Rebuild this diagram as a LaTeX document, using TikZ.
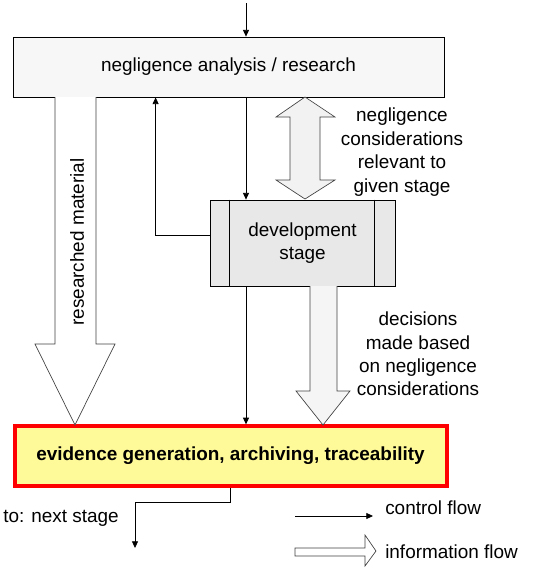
\documentclass[tikz,border=0pt]{standalone}
\usepackage{fontspec}
\setmainfont{Liberation Sans}
\usetikzlibrary{arrows.meta,positioning}

\begin{document}
\begin{tikzpicture}[
    x=0.75pt, y=-0.75pt,
    every node/.style={font=\fontsize{14.2}{17.6}\selectfont},
    main box/.style={draw, line width=0.6pt, inner sep=0pt},
    ctrl/.style={draw, line width=0.6pt, -{Triangle[length=5pt,width=4.5pt]}},
    info arrow/.style={draw=black!75, line width=0.5pt, line join=miter}
  ]
  \useasboundingbox (0,0) rectangle (543,569);

  % Boxes
  \node[main box, fill=black!3, minimum width=323.25pt, minimum height=45pt]
    (research) at (228.5,67) {negligence analysis / research};
  \node[main box, fill=black!9, minimum width=138.75pt, minimum height=64.5pt, align=center]
    (dev) at (302.5,243) {development\\stage};
  \draw[line width=0.6pt] ([xshift=15pt]dev.north west) -- ([xshift=15pt]dev.south west);
  \draw[line width=0.6pt] ([xshift=-15.5pt]dev.north east) -- ([xshift=-15.5pt]dev.south east);
  \node[draw=red, line width=3pt, fill=yellow!40, minimum width=324pt, minimum height=44.5pt,
    font=\fontsize{14.2}{17.6}\selectfont\bfseries]
    (evidence) at (230.5,456) {evidence generation, archiving, traceability};

  % Information flow (block arrows)
  \draw[info arrow, fill=white] (55,97) -- (55,344) -- (35,344) -- (75,425)
    -- (115,344) -- (96,344) -- (96,97);
  \draw[info arrow, fill=black!5] (305,97) -- (335,117) -- (320,117) -- (320,180)
    -- (335,180) -- (305,199) -- (276,180) -- (290,180) -- (290,117)
    -- (276,117) -- cycle;
  \draw[info arrow, fill=black!4] (310,286) -- (310,391) -- (296,391) -- (323,425)
    -- (350,391) -- (337,391) -- (337,286);

  % Control flow
  \coordinate (in) at (246,3);
  \coordinate (next) at (135,548);
  \draw[ctrl] (in) -- (research.north -| in);
  \draw[ctrl] (research.south -| in) -- (dev.north -| in);
  \draw[ctrl] (dev.south -| in) -- (evidence.north -| in);
  \draw[ctrl] ([yshift=5.5pt]dev.west) -| ([xshift=107.25pt]research.south west);
  \draw[ctrl] (evidence.south) |- ++(0,15) -| (next);

  % Labels
  \node[rotate=90] (material) at (77,242) {researched material};
  \node[align=center] (relevant) at (402,152)
    {negligence\\considerations\\relevant to\\given stage};
  \node[align=center] (decisions) at (418,354)
    {decisions\\made based\\on negligence\\considerations};
  \node[anchor=west, inner sep=0pt] (nextlabel) at (3,518) {to: next stage};

  % Legend
  \coordinate (lc) at (295,516);
  \coordinate (lcend) at (373,516);
  \draw[ctrl] (lc) -- (lcend);
  \node[anchor=west, inner sep=0pt] (ctrllabel) at (385,508) {control flow};
  \draw[info arrow, fill=white] (295,548) -- (365,548) -- (365,535) -- (376,551)
    -- (365,566) -- (365,556) -- (295,556) -- cycle;
  \node[anchor=west, inner sep=0pt] (infolabel) at (385,552) {information flow};
\end{tikzpicture}
\end{document}
